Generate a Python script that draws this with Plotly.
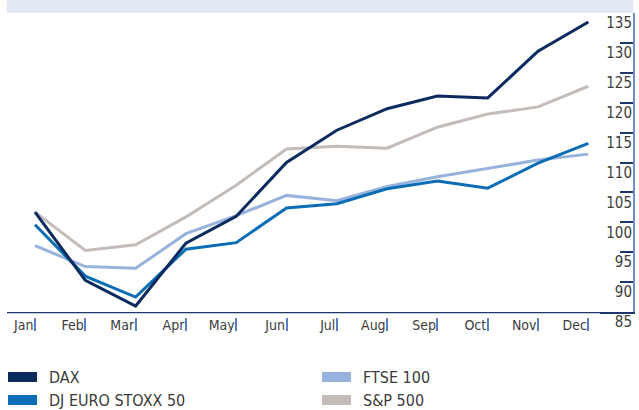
import plotly.graph_objects as go

# ---- data ----
months = ["Jan", "Feb", "Mar", "Apr", "May", "Jun", "Jul", "Aug", "Sep", "Oct", "Nov", "Dec"]
dax = [101.7, 90.3, 86.0, 96.5, 101.0, 110.0, 115.4, 119.0, 121.1, 120.8, 128.6, 133.5]
stoxx = [99.6, 91.0, 87.5, 95.5, 96.6, 102.4, 103.1, 105.6, 106.9, 105.7, 109.9, 113.2]
ftse = [96.1, 92.6, 92.3, 98.1, 101.1, 104.5, 103.6, 106.0, 107.6, 109.0, 110.4, 111.4]
sp500 = [101.7, 95.3, 96.25, 100.9, 106.2, 112.25, 112.7, 112.4, 115.9, 118.1, 119.3, 122.75]
y_ticks = [85, 90, 95, 100, 105, 110, 115, 120, 125, 130, 135]

names = ["DAX", "DJ EURO STOXX 50", "FTSE 100", "S&P 500"]
colors = {"DAX": "#0b2a5e", "DJ EURO STOXX 50": "#0a6db5", "FTSE 100": "#97b2dc", "S&P 500": "#c3bcb8"}
series = {"DAX": dax, "DJ EURO STOXX 50": stoxx, "FTSE 100": ftse, "S&P 500": sp500}

W, H = 639, 410
ML, MR, MT, MB = 7, 6, 13, 98
PW = W - ML - MR
PH = H - MT - MB
FONT = "Liberation Sans Narrow, DejaVu Sans Condensed, Roboto, sans-serif"
TXT = "#3c3c3c"

def px_x(x):
    return (x - ML) / PW

def px_y(y):
    return (H - MB - y) / PH

fig = go.Figure()
for n in ["S&P 500", "FTSE 100", "DJ EURO STOXX 50", "DAX"]:
    fig.add_trace(go.Scatter(x=months, y=series[n], mode="lines", name=n,
                             line=dict(color=colors[n], width=3), showlegend=False,
                             hoverinfo="skip"))
# empty helper trace so the label axis is drawn
fig.add_trace(go.Scatter(x=[months[0]], y=[None], yaxis="y2", mode="lines",
                         showlegend=False, hoverinfo="skip"))

xr = [-0.557, 11.888]
yr = [85, 135]
fig.update_layout(
    width=W, height=H,
    margin=dict(l=ML, r=MR, t=MT, b=MB, pad=0),
    paper_bgcolor="white", plot_bgcolor="white",
    font=dict(family=FONT, color=TXT),
    xaxis=dict(type="category", range=xr, showline=True, linecolor="#1b3a6b", linewidth=1.5,
               ticks="outside", ticklen=17, tickwidth=1.5, tickcolor="#5a7ec0",
               ticklabelposition="outside left", ticklabelstandoff=-1,
               tickfont=dict(size=14, color=TXT, family=FONT),
               showgrid=False, zeroline=False),
    yaxis=dict(side="right", range=yr,
               tickmode="array", tickvals=y_ticks,
               ticks="inside", ticklen=13, tickwidth=1.5, tickcolor="#1b3a6b",
               showline=True, linecolor="#7390c4", linewidth=1.5,
               showticklabels=False, showgrid=False, zeroline=False),
    yaxis2=dict(overlaying="y", side="left", anchor="free", position=1, range=yr,
                tickmode="array", tickvals=y_ticks, ticktext=[str(v) for v in y_ticks],
                ticks="", showline=False, showgrid=False, zeroline=False,
                ticklabelshift=10, ticklabelstandoff=1,
                tickfont=dict(size=15, color=TXT, family=FONT)),
)

# top band
fig.add_shape(type="rect", xref="paper", yref="paper", x0=0, x1=1, y0=px_y(13), y1=px_y(0),
              fillcolor="#e2e8f4", line=dict(width=0), layer="below")
# small gap between the axis line and the month tick marks
fig.add_shape(type="rect", xref="paper", yref="paper", x0=0, x1=px_x(600), y0=px_y(318), y1=px_y(313.3),
              fillcolor="white", line=dict(width=0), layer="above")

# legend (manual)
legend_items = [("DAX", 8, 377), ("DJ EURO STOXX 50", 8, 400), ("FTSE 100", 322, 377), ("S&P 500", 322, 400)]
for n, x0, yc in legend_items:
    fig.add_shape(type="rect", xref="paper", yref="paper",
                  x0=px_x(x0), x1=px_x(x0 + 29), y0=px_y(yc + 5), y1=px_y(yc - 5),
                  fillcolor=colors[n], line=dict(width=0))
    fig.add_annotation(xref="paper", yref="paper", x=px_x(x0 + 39), y=px_y(yc), text=n,
                       showarrow=False, xanchor="left", yanchor="middle",
                       font=dict(size=16, color=TXT, family=FONT))

fig.write_html("out.html", config={"displayModeBar": False},
               post_script="document.body.style.margin='0';document.body.style.overflow='hidden';")
